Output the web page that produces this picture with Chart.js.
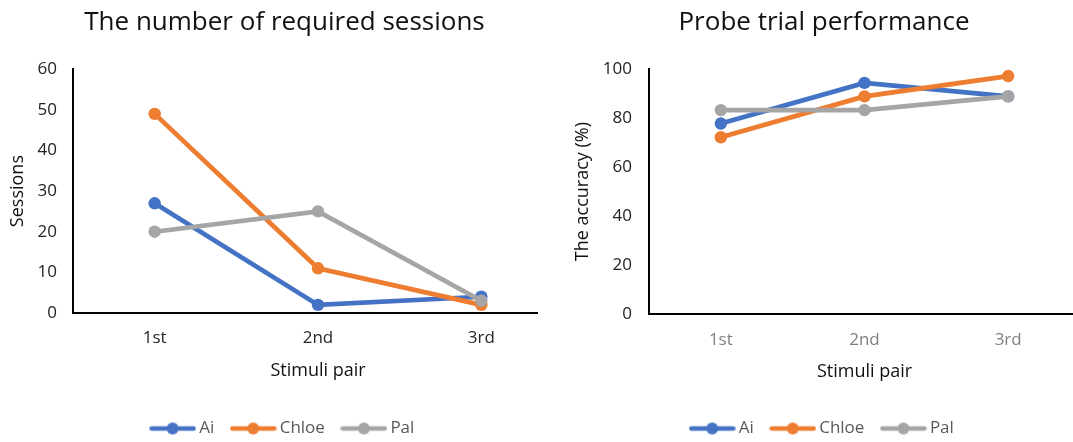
<!DOCTYPE html>
<html>
<head>
<meta charset="utf-8">
<script src="https://cdn.jsdelivr.net/npm/chart.js@4.4.1/dist/chart.umd.min.js"></script>
<style>
  html, body { margin: 0; padding: 0; background: #fff; overflow: hidden; width: 1073px; height: 442px; }
  .panel { position: absolute; top: 0; height: 442px; overflow: hidden; background: #fff; }
  #panelSessions { left: 0; width: 538px; }
  #panelAccuracy { left: 538px; width: 535px; }
  canvas { display: block; }
</style>
</head>
<body>
<div class="panel" id="panelSessions"><canvas id="sessionsChart" width="578" height="447"></canvas></div>
<div class="panel" id="panelAccuracy"><canvas id="accuracyChart" width="574" height="447"></canvas></div>
<script>
// Stimuli pairs along the x axis
const stimuliPairs = ['1st', '2nd', '3rd'];
const subjects = ['Ai', 'Chloe', 'Pal'];

// Sessions needed to reach criterion on each pair
const sessionsAi = [27, 2, 4];
const sessionsChloe = [49, 11, 2];
const sessionsPal = [20, 25, 3];

// Probe trial accuracy (%) on each pair
const accuracyAi = [77.8, 94.4, 88.9];
const accuracyChloe = [72.2, 88.9, 97.2];
const accuracyPal = [83.3, 83.3, 88.9];

// Value axis ranges
const sessionsAxis = { min: 0, max: 60, step: 10 };
const accuracyAxis = { min: 0, max: 100, step: 20 };

const subjectColors = ['#4472C4', '#ED7D31', '#A5A5A5'];

Chart.defaults.font.family = "'Open Sans', 'Noto Sans', sans-serif";

// Legend key: a short line segment with a dot in the middle
function legendKey(color) {
  const c = document.createElement('canvas');
  c.width = 47; c.height = 14;
  const g = c.getContext('2d');
  g.strokeStyle = color; g.lineWidth = 4.5; g.lineCap = 'round';
  g.beginPath(); g.moveTo(2.5, 7); g.lineTo(44.5, 7); g.stroke();
  g.fillStyle = color;
  g.beginPath(); g.arc(23.5, 7, 6, 0, Math.PI * 2); g.fill();
  return c;
}
const legendKeys = subjectColors.map(legendKey);

function buildDatasets(values) {
  return values.map((v, i) => ({
    label: subjects[i],
    data: v,
    borderColor: subjectColors[i],
    backgroundColor: subjectColors[i],
    borderWidth: 4.7,
    pointRadius: 6.2,
    pointBorderWidth: 0,
    pointBackgroundColor: subjectColors[i],
    tension: 0,
    order: values.length - i
  }));
}

function buildChart(canvasId, cfg) {
  return new Chart(document.getElementById(canvasId), {
    type: 'line',
    data: { labels: stimuliPairs, datasets: buildDatasets(cfg.series) },
    options: {
      responsive: false,
      animation: false,
      events: [],
      layout: { padding: cfg.padding },
      plugins: {
        title: {
          display: true,
          text: cfg.title,
          color: '#111',
          font: { size: 26, weight: 'normal' },
          padding: { top: 7, bottom: 31 }
        },
        legend: {
          position: 'bottom',
          labels: {
            color: '#595959',
            font: { size: 17 },
            usePointStyle: true,
            pointStyleWidth: 36,
            padding: 21,
            sort: (a, b) => a.datasetIndex - b.datasetIndex,
            generateLabels: chart => {
              const items = Chart.defaults.plugins.legend.labels.generateLabels(chart);
              items.forEach(it => { it.pointStyle = legendKeys[it.datasetIndex]; });
              return items;
            }
          }
        },
        tooltip: { enabled: false }
      },
      scales: {
        x: {
          offset: true,
          grid: { display: false, drawTicks: false },
          border: { display: true, color: '#000', width: 2 },
          ticks: { color: cfg.xTickColor, font: { size: 17 }, padding: cfg.xTickPad },
          title: {
            display: true, text: 'Stimuli pair', color: '#111',
            font: { size: 18 }, padding: { top: 0, bottom: cfg.xTitlePad }
          },
          afterFit: s => { s.height = cfg.xHeight; }
        },
        y: {
          min: cfg.axis.min, max: cfg.axis.max,
          grid: { display: false, drawTicks: false },
          border: { display: true, color: '#000', width: 2 },
          ticks: { stepSize: cfg.axis.step, color: '#222', font: { size: 17 }, padding: cfg.yTickPad },
          title: {
            display: true, text: cfg.yTitle, color: '#111',
            font: { size: 18 }, padding: { top: cfg.yTitlePad, bottom: 0 }
          },
          afterFit: s => { s.width = cfg.yWidth; }
        }
      }
    }
  });
}

buildChart('sessionsChart', {
  title: 'The number of required sessions',
  yTitle: 'Sessions',
  series: [sessionsAi, sessionsChloe, sessionsPal],
  axis: sessionsAxis,
  padding: { left: 6, right: 15, top: 0, bottom: 0 },
  yWidth: 67, yTickPad: 16, yTitlePad: 1,
  xHeight: 86, xTickPad: 15, xTitlePad: 17,
  xTickColor: '#262626'
});

buildChart('accuracyChart', {
  title: 'Probe trial performance',
  yTitle: 'The accuracy (%)',
  series: [accuracyAi, accuracyChloe, accuracyPal],
  axis: accuracyAxis,
  padding: { left: 30, right: 32, top: 0, bottom: 0 },
  yWidth: 81, yTickPad: 17, yTitlePad: 4,
  xHeight: 85, xTickPad: 16, xTitlePad: 16,
  xTickColor: '#7f7f7f'
});
</script>
</body>
</html>
